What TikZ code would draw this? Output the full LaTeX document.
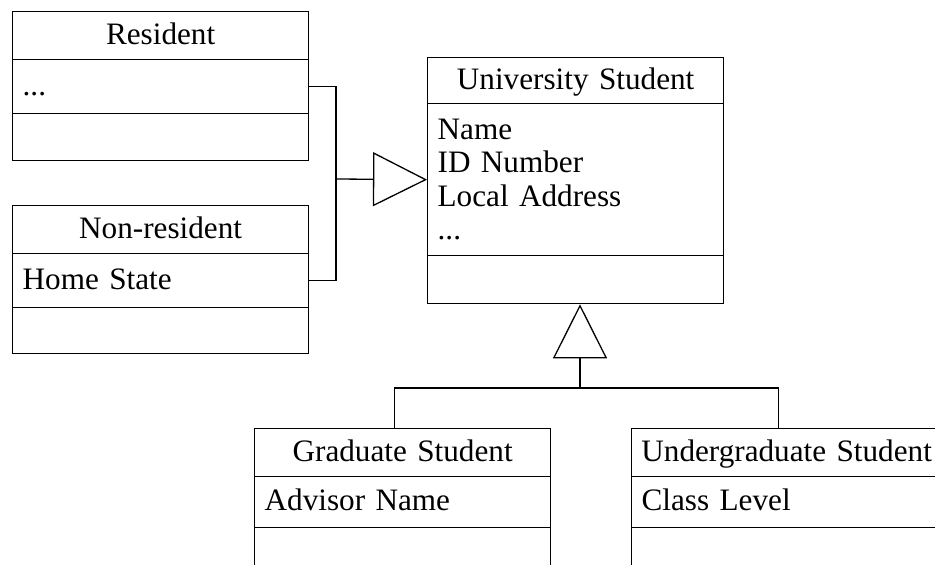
\documentclass[tikz,border=0pt]{standalone}
\usepackage{fontspec}
\setmainfont{Liberation Serif}
\usetikzlibrary{positioning}
\usetikzlibrary{arrows.meta}

\tikzset{
box/.style={draw,anchor=north west,inner sep=0pt,text width=276pt,minimum width=296pt},
boxtitle/.style={box,align=center,text height=21pt,text depth=4pt},
boxline/.style={box,align=left,text height=21pt,text depth=4pt},
boxlist/.style={box,align=left},
gen/.style={-{Triangle[open,length=54pt,width=54pt]}},
elbow/.style={to path={-| (\tikztotarget)}}
}

\begin{document}
\begin{tikzpicture}[x=1pt,y=-1pt,line width=1.3pt,font=\fontsize{31.2pt}{33.5pt}\selectfont]
\clip (0,0) rectangle (935,565);
% subclasses on the left
\node[boxtitle,minimum height=48pt](resident) at (12,11){Resident};
\node[boxline,minimum height=54pt](residentA) at (12,59){...};
\node[boxline,minimum height=47pt](residentO) at (12,113){};
\node[boxtitle,minimum height=48pt](nonresident) at (12,205){Non-resident};
\node[boxline,minimum height=54pt](nonresidentA) at (12,253){Home State};
\node[boxline,minimum height=46pt](nonresidentO) at (12,307){};
% superclass
\node[boxtitle,minimum height=46pt](university) at (427,57){University Student};
\node[boxlist,minimum height=152pt](universityA) at (427,103){Name\\ID Number\\Local Address\\...};
\node[boxline,minimum height=48pt](universityO) at (427,255){};
% subclasses below
\node[boxtitle,minimum height=48pt](graduate) at (254,428){Graduate Student};
\node[boxline,minimum height=51pt](graduateA) at (254,476){Advisor Name};
\node[boxline,minimum height=60pt](graduateO) at (254,527){};
\node[boxtitle,minimum height=48pt,minimum width=310pt,text width=304pt](undergrad) at (631,428){Undergraduate Student};
\node[boxline,minimum height=51pt,minimum width=310pt,text width=290pt](undergradA) at (631,476){Class Level};
\node[boxline,minimum height=60pt,minimum width=310pt,text width=290pt](undergradO) at (631,527){};

\coordinate (joinR) at (336,179);
\coordinate (joinB) at (580,388);

\path
(residentA.east) edge[elbow] (joinR)
(nonresidentA.east) edge[elbow] (joinR)
(joinR) edge[gen] (universityA.west)
(joinB) edge[gen] (joinB |- universityO.south)
(joinB) edge[elbow] ([xshift=-8pt]graduate.north)
(joinB) edge[elbow] ([xshift=-8pt]undergrad.north);
\end{tikzpicture}
\end{document}
